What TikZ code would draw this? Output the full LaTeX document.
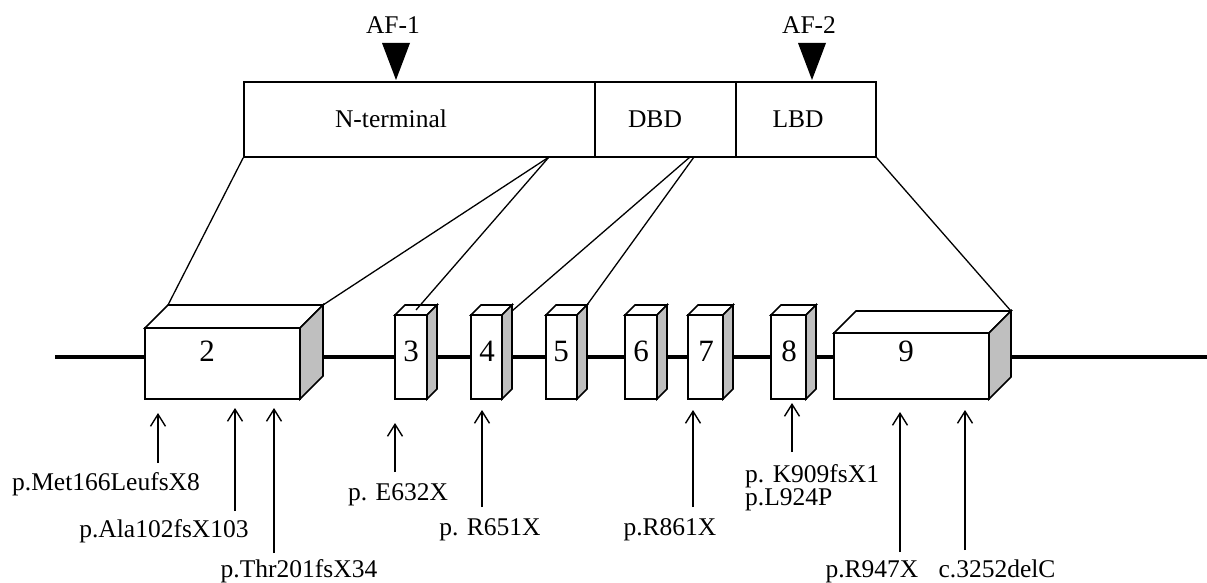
\documentclass[tikz,border=0pt]{standalone}
\usepackage{fontspec}
\setmainfont{Liberation Serif}
\usetikzlibrary{arrows.meta}
\definecolor{exgray}{gray}{0.75}
\newcommand\drawexon[8]{%
  \draw[exline, fill=white] (#2,#4) rectangle (#3,#5);
  \draw[exline, fill=white] (#2,#4) -- ({#2+#6},{#4-#6}) -- ({#3+#6},{#4-#6}) -- (#3,#4) -- cycle;
  \draw[exline, fill=exgray] (#3,#4) -- ({#3+#6},{#4-#6}) -- ({#3+#6},{#5-#6}) -- (#3,#5) -- cycle;
  \node[exnum] (#1) at (#8,351) {#7};
  \coordinate (#1-bl) at ({#2+#6},{#4-#6});
  \coordinate (#1-br) at ({#3+#6},{#4-#6});
  \coordinate (#1-tm) at ({(#2+#3)/2+#6/2},{#4-#6/2});
}
\begin{document}
\begin{tikzpicture}[x=1pt,y=-1pt,
  txt/.style={inner sep=0pt, anchor=base, font=\fontsize{25.5}{30}\selectfont},
  exnum/.style={inner sep=0pt, font=\fontsize{31}{36}\selectfont},
  dom/.style={draw, line width=1.6pt, inner sep=0pt, minimum height=75pt},
  exline/.style={line width=1.6pt, line join=miter},
  conn/.style={line width=1.3pt},
  mut/.style={line width=1.4pt, -{Straight Barb[length=12pt,width=15pt,line width=1.4pt]}},
  tri/.style={fill=black}]
\useasboundingbox (0,0) rectangle (1207,583);

% domain bar
\node[dom, minimum width=351pt] (nterm) at (419.5,119.5) {};
\node[dom, minimum width=141pt] (dbd) at (665.5,119.5) {};
\node[dom, minimum width=140pt] (lbd) at (806,119.5) {};
\node[txt] (ntermlab) at (391,128) {N-terminal};
\node[txt] (dbdlab) at (655,128) {DBD};
\node[txt] (lbdlab) at (798,128) {LBD};

% AF markers
\node[txt] (af1) at (393,34) {AF-1};
\node[txt] (af2) at (809,34) {AF-2};
\fill[tri] (382,43) -- (410,43) -- (396,80) -- cycle;
\fill[tri] (798,43) -- (826,43) -- (812,80) -- cycle;

% gene line
\coordinate (gl) at (55,357);
\coordinate (gr) at (1207,357);
\draw[line width=4pt] (gl) -- (gr);

% exons
\drawexon{e2}{145}{300}{328}{399}{23}{2}{207}
\drawexon{e3}{395}{427}{315}{399}{10}{3}{411}
\drawexon{e4}{471}{502}{315}{399}{10}{4}{487}
\drawexon{e5}{546}{577}{315}{399}{10}{5}{561}
\drawexon{e6}{625}{657}{315}{399}{10}{6}{641}
\drawexon{e7}{688}{723}{315}{399}{10}{7}{706}
\drawexon{e8}{771}{806}{315}{399}{10}{8}{789}
\drawexon{e9}{834}{989}{333}{399}{22}{9}{906}

% connectors domain -> exons
\coordinate (apexN) at (549,157);
\coordinate (apexD1) at (690,157);
\coordinate (apexD2) at (694,157);
\draw[conn] (nterm.south west) -- (e2-bl);
\draw[conn] (apexN) -- (e2-br);
\draw[conn] (apexN) -- (e3-tm);
\draw[conn] (apexD1) -- ([yshift=-6pt]e4-br);
\draw[conn] (apexD2) -- (e5-br);
\draw[conn] (lbd.south east) -- (e9-br);

% mutations
\node[txt] (m1) at (106,490) {p.Met166LeufsX8};
\node[txt] (m2) at (164,537) {p.Ala102fsX103};
\node[txt] (m3) at (299,577) {p.Thr201fsX34};
\node[txt] (m4) at (398,500) {p. E632X};
\node[txt] (m5) at (490,535) {p. R651X};
\node[txt] (m6) at (670,535) {p.R861X};
\node[txt, anchor=base west] (m7) at (745,482) {p. K909fsX1};
\node[txt, anchor=base west] (m8) at (745,505) {p.L924P};
\node[txt] (m9) at (872,577) {p.R947X};
\node[txt] (m10) at (997,577) {c.3252delC};

\coordinate (t1) at (158,463); \coordinate (h1) at (158,413);
\coordinate (t2) at (235,511); \coordinate (h2) at (235,408);
\coordinate (t3) at (274,553); \coordinate (h3) at (274,408);
\coordinate (t4) at (395,472); \coordinate (h4) at (395,423);
\coordinate (t5) at (482,507); \coordinate (h5) at (482,410);
\coordinate (t6) at (693,507); \coordinate (h6) at (693,410);
\coordinate (t7) at (792,452); \coordinate (h7) at (792,403);
\coordinate (t8) at (900,552); \coordinate (h8) at (900,412);
\coordinate (t9) at (965,550); \coordinate (h9) at (965,410);
\foreach \i in {1,...,9} {\draw[mut] (t\i) -- (h\i);}
\end{tikzpicture}
\end{document}
